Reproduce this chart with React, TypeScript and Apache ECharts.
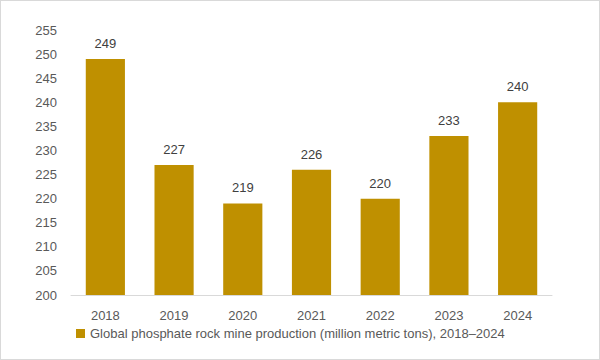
import React, { useEffect, useRef } from "react";
import * as echarts from "echarts";

const categories = ["2018", "2019", "2020", "2021", "2022", "2023", "2024"];
const production = [249, 227, 219, 226, 220, 233, 240];
const seriesName = "Global phosphate rock mine production (million metric tons), 2018\u20132024";

export default function App() {
  const ref = useRef<HTMLDivElement>(null);
  useEffect(() => {
    if (!ref.current) return;
    const chart = echarts.init(ref.current, undefined, { renderer: "svg" });
    chart.setOption({
      animation: false,
      backgroundColor: "#ffffff",
      textStyle: { fontFamily: "Liberation Sans, Arial, sans-serif" },
      grid: { left: 70, right: 47, top: 29, bottom: 64 },
      legend: {
        bottom: 14,
        left: 70,
        itemWidth: 9,
        itemHeight: 9,
        itemGap: 4,
        icon: "rect",
        textStyle: { color: "#595959", fontSize: 13 },
        data: [seriesName],
      },
      xAxis: {
        type: "category",
        data: categories,
        axisLine: { lineStyle: { color: "#d9d9d9" } },
        axisTick: { show: false },
        axisLabel: { color: "#595959", fontSize: 13, margin: 14 },
      },
      yAxis: {
        type: "value",
        min: 200,
        max: 255,
        interval: 5,
        splitLine: { show: false },
        axisLine: { show: false },
        axisTick: { show: false },
        axisLabel: { color: "#595959", fontSize: 13, margin: 14 },
      },
      series: [
        {
          name: seriesName,
          type: "bar",
          data: production,
          barWidth: "57%",
          itemStyle: { color: "#bf9000" },
          label: {
            show: true,
            position: "top",
            distance: 9,
            color: "#404040",
            fontSize: 13,
          },
        },
      ],
    });
    return () => chart.dispose();
  }, []);
  return (
    <div
      style={{
        position: "fixed",
        left: 0,
        top: 0,
        width: 600,
        height: 360,
        boxSizing: "border-box",
        border: "1px solid #d9d9d9",
      }}
    >
      <div ref={ref} style={{ width: 598, height: 358 }} />
    </div>
  );
}
